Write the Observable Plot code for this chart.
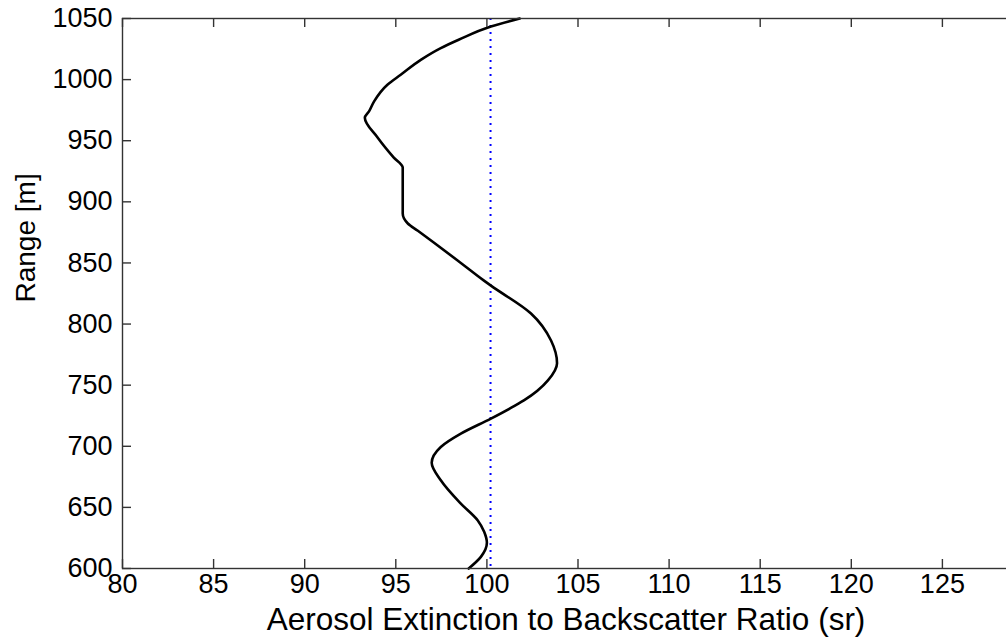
<!DOCTYPE html>
<html>
<head>
<meta charset="utf-8">
<script src="https://cdn.jsdelivr.net/npm/d3@7"></script>
<script src="https://cdn.jsdelivr.net/npm/@observablehq/plot@0.6"></script>
<style>
  html, body { margin: 0; padding: 0; background: #fff; overflow: hidden; }
  #chart { width: 1006px; height: 640px; overflow: hidden; }
  #chart svg { max-width: none !important; }
</style>
</head>
<body>
<div id="chart"></div>
<script>
// Range (m) from top to bottom of the profile
const ranges = [1050, 1043.5, 1032.6, 1025.8, 1016.2, 1004.0, 995.8, 982.2, 974.0, 968.8,
  952.5, 936.2, 928.0, 890.4, 882.3, 876.3, 851.8, 835.5, 831.4, 808.6, 786.5, 768.0,
  753.9, 737.5, 730.8, 722.6, 710.3, 699.4, 686.5, 672.2, 653.1, 639.5, 630.0, 621.0,
  609.5, 600];
// Aerosol extinction-to-backscatter ratio (sr)
const ratios = [101.8, 100.22, 98.45, 97.47, 96.37, 95.27, 94.54, 93.81, 93.53, 93.30,
  94.01, 94.89, 95.38, 95.38, 95.66, 96.21, 98.41, 99.84, 100.22, 102.42, 103.52, 103.85,
  103.35, 102.03, 101.25, 100.22, 98.57, 97.47, 96.97, 97.47, 98.57, 99.49, 99.85, 100.0,
  99.67, 99.0];
const meanRatio = 100.2;
const xTicks = [80, 85, 90, 95, 100, 105, 110, 115, 120, 125];
const yTicks = [600, 650, 700, 750, 800, 850, 900, 950, 1000, 1050];
const xLabel = "Aerosol Extinction to Backscatter Ratio (sr)";
const yLabel = "Range [m]";

const profile = ranges.map((r, i) => ({range: r, ratio: ratios[i]}))
  .sort((a, b) => a.range - b.range);

const marginLeft = 122, marginTop = 18, marginBottom = 72, marginRight = 10;
const width = 1043, height = 640;
const innerH = height - marginTop - marginBottom;
const innerW = width - marginLeft - marginRight;
const tickLen = 9;
const axisColor = "#333";
const font = "'Liberation Sans', Arial, Helvetica, sans-serif";

const chart = Plot.plot({
  width, height, marginLeft, marginRight, marginTop, marginBottom,
  style: {fontFamily: font, color: "#000", background: "#fff", maxWidth: "none"},
  x: {domain: [80, 130]},
  y: {domain: [600, 1050]},
  marks: [
    Plot.ruleX([meanRatio], {stroke: "#0000ff", strokeWidth: 2, strokeDasharray: "2,5"}),
    Plot.line(profile, {x: "ratio", y: "range", stroke: "#000", strokeWidth: 2.6, curve: "monotone-y"}),
    Plot.frame({stroke: axisColor, strokeWidth: 1.4}),
    // inward ticks on all four sides
    Plot.tickX(xTicks, {x: d => d, insetTop: innerH - tickLen, stroke: axisColor, strokeWidth: 1.4}),
    Plot.tickX(xTicks, {x: d => d, insetBottom: innerH - tickLen, stroke: axisColor, strokeWidth: 1.4}),
    Plot.tickY(yTicks, {y: d => d, insetRight: innerW - tickLen, stroke: axisColor, strokeWidth: 1.4}),
    Plot.tickY(yTicks, {y: d => d, insetLeft: innerW - tickLen, stroke: axisColor, strokeWidth: 1.4}),
    Plot.axisX(xTicks, {tickSize: 0, tickPadding: 5, fontSize: 27, label: null, tickFormat: d => String(d)}),
    Plot.axisY(yTicks, {tickSize: 0, tickPadding: 10, fontSize: 27, label: null, tickFormat: d => String(d)}),
    Plot.text([xLabel], {frameAnchor: "bottom", dx: -12, dy: 51, fontSize: 31.5, fill: "#000", lineAnchor: "middle"}),
    Plot.text([yLabel], {frameAnchor: "left", rotate: -90, dx: -96, dy: 9, fontSize: 28, fill: "#000", lineAnchor: "middle"})
  ]
});
document.getElementById("chart").appendChild(chart);
</script>
</body>
</html>
